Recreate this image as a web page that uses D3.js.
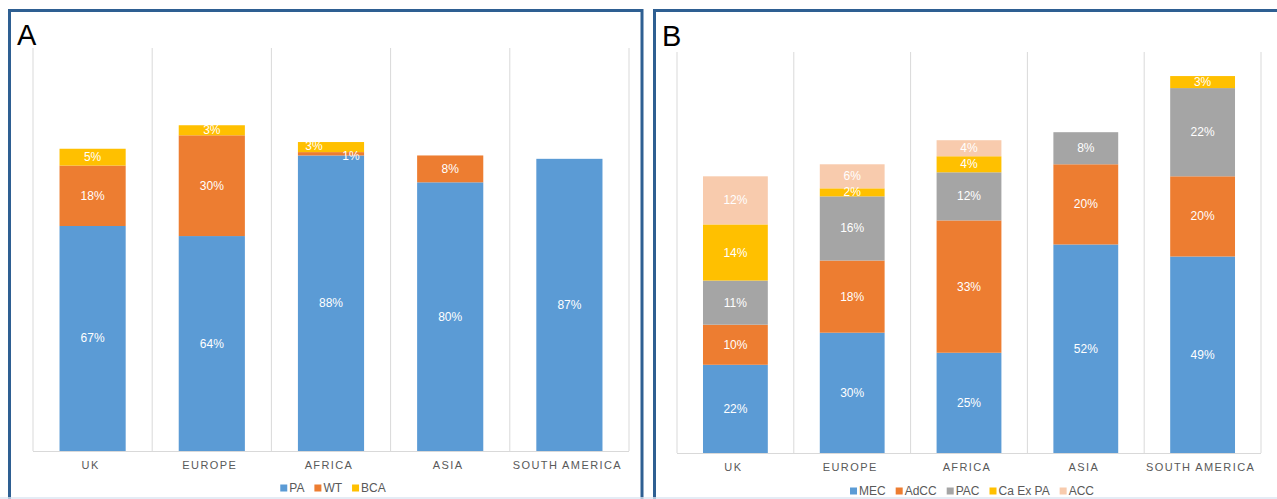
<!DOCTYPE html>
<html>
<head>
<meta charset="utf-8">
<script src="https://cdn.jsdelivr.net/npm/d3@7/dist/d3.min.js"></script>
<style>
  html, body { margin: 0; padding: 0; background: #fff; }
  svg { display: block; font-family: "Liberation Sans", Arial, sans-serif; }
</style>
</head>
<body>
<svg id="chart" width="1277" height="499"></svg>
<script>
// ---------- DATA ----------
const categories = ["UK", "EUROPE", "AFRICA", "ASIA", "SOUTH AMERICA"];

// Panel A
const seriesA = ["PA", "WT", "BCA"];
const valuesPA  = [67, 64, 88, 80, 87];
const valuesWT  = [18, 30, 1, 8, 0];
const valuesBCA = [5, 3, 3, 0, 0];

// Panel B
const seriesB = ["MEC", "AdCC", "PAC", "Ca Ex PA", "ACC"];
const valuesMEC  = [22, 30, 25, 52, 49];
const valuesAdCC = [10, 18, 33, 20, 20];
const valuesPAC  = [11, 16, 12, 8, 22];
const valuesCaEx = [14, 2, 4, 0, 3];
const valuesACC  = [12, 6, 4, 0, 0];

// ---------- STYLE ----------
const colorsA = ["#5B9BD5", "#ED7D31", "#FFC000"];
const colorsB = ["#5B9BD5", "#ED7D31", "#A5A5A5", "#FFC000", "#F8CBAD"];
const gridColor = "#D9D9D9";
const borderColor = "#2E5F92";
const textGray = "#595959";

const svg = d3.select("#chart");
svg.append("rect").attr("width", 1277).attr("height", 499).attr("fill", "#fff");

function drawPanel(cfg) {
  const g = svg.append("g");
  const table = categories.map((c, i) => {
    const o = { cat: c };
    cfg.series.forEach((s, k) => { o[s] = cfg.values[k][i]; });
    return o;
  });
  const stacked = d3.stack().keys(cfg.series)(table);

  const x = d3.scaleBand().domain(categories).range([cfg.x0, cfg.x1])
    .paddingInner(0.445).paddingOuter(0.2225);
  const y = d3.scaleLinear().domain([0, cfg.yMax]).range([cfg.base, cfg.top]);
  const step = x.step();

  // vertical gridlines
  g.selectAll("line.grid").data(d3.range(categories.length + 1)).join("line")
    .attr("x1", i => cfg.x0 + i * step).attr("x2", i => cfg.x0 + i * step)
    .attr("y1", cfg.top).attr("y2", cfg.base)
    .attr("stroke", gridColor).attr("stroke-width", 1);
  // baseline
  g.append("line").attr("x1", cfg.x0).attr("x2", cfg.x1)
    .attr("y1", cfg.base + 0.5).attr("y2", cfg.base + 0.5)
    .attr("stroke", gridColor).attr("stroke-width", 1);

  // bars
  stacked.forEach((layer, k) => {
    g.selectAll(null).data(layer).join("rect")
      .attr("x", d => x(d.data.cat))
      .attr("width", x.bandwidth())
      .attr("y", d => y(d[1]))
      .attr("height", d => Math.max(0, y(d[0]) - y(d[1])))
      .attr("fill", cfg.colors[k]);
  });

  // labels
  stacked.forEach((layer, k) => {
    layer.forEach((d, i) => {
      const v = d[1] - d[0];
      if (v <= 0) return;
      let cx = x(d.data.cat) + x.bandwidth() / 2;
      let cy = (y(d[0]) + y(d[1])) / 2;
      // avoid overlap when a neighbouring segment is tiny
      const below = k > 0 ? stacked[k - 1][i][1] - stacked[k - 1][i][0] : null;
      if (v < 2) { cx += 20; cy += 2; }
      else if (below !== null && below > 0 && below < 2) { cx -= 17; cy -= 1; }
      g.append("text").attr("x", cx).attr("y", cy)
        .attr("text-anchor", "middle").attr("dominant-baseline", "central")
        .attr("fill", "#fff").attr("font-size", 12)
        .text(v + "%");
    });
  });

  // category labels
  g.selectAll("text.cat").data(categories).join("text")
    .attr("x", d => x(d) + x.bandwidth() / 2 - 2)
    .attr("y", cfg.catY)
    .attr("text-anchor", "middle").attr("dominant-baseline", "central")
    .attr("fill", textGray).attr("font-size", 11)
    .attr("letter-spacing", "1.4px")
    .text(d => d);

  // legend
  const leg = g.append("g");
  let lx = 0;
  cfg.series.forEach((s, k) => {
    leg.append("rect").attr("x", lx).attr("y", -3.5).attr("width", 7).attr("height", 7)
      .attr("fill", cfg.colors[k]);
    const t = leg.append("text").attr("x", lx + 9).attr("y", 0)
      .attr("dominant-baseline", "central").attr("fill", textGray)
      .attr("font-size", 12).text(s);
    lx += 9 + t.node().getComputedTextLength() + 10;
  });
  const lw = lx - 10;
  leg.attr("transform", `translate(${cfg.legendCx - lw / 2},${cfg.legendY})`);

  // panel letter
  g.append("text").attr("x", cfg.letterX).attr("y", cfg.letterY)
    .attr("font-size", 29).attr("fill", "#000").text(cfg.letter);
}

drawPanel({
  series: seriesA, values: [valuesPA, valuesWT, valuesBCA], colors: colorsA,
  x0: 33, x1: 629, base: 451, top: 48, yMax: 120,
  catY: 465, legendCx: 333, legendY: 488, letter: "A", letterX: 17, letterY: 45
});
drawPanel({
  series: seriesB, values: [valuesMEC, valuesAdCC, valuesPAC, valuesCaEx, valuesACC], colors: colorsB,
  x0: 677, x1: 1261, base: 453, top: 52, yMax: 100,
  catY: 467, legendCx: 972, legendY: 491, letter: "B", letterX: 662, letterY: 46
});

// panel borders
svg.append("rect").attr("x", 9.5).attr("y", 10.5).attr("width", 632.5).attr("height", 510)
  .attr("fill", "none").attr("stroke", borderColor).attr("stroke-width", 3);
svg.append("rect").attr("x", 654.5).attr("y", 10.5).attr("width", 640).attr("height", 510)
  .attr("fill", "none").attr("stroke", borderColor).attr("stroke-width", 3);
svg.append("line").attr("x1", 0).attr("x2", 1277).attr("y1", 498).attr("y2", 498)
  .attr("stroke", "#DCE6F2").attr("stroke-width", 1.5);
</script>
</body>
</html>
